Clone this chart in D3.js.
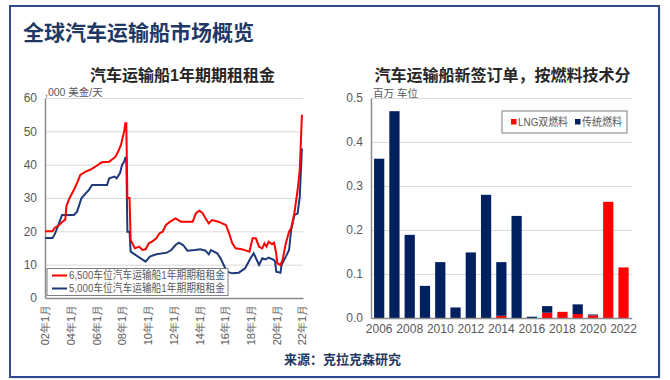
<!DOCTYPE html>
<html>
<head>
<meta charset="utf-8">
<script src="https://cdn.jsdelivr.net/npm/d3@7"></script>
<style>
  body { margin: 0; background: #fff; }
  svg { font-family: "Liberation Sans", Arial, "Noto Sans CJK SC", sans-serif; }
  .grid line { stroke: #d9d9d9; }
  .tick text { fill: #595959; }
</style>
</head>
<body>
<svg width="670" height="380"></svg>
<script>
// 6,500 / 5,000 车位 1年期期租租金 (,000 美金/天)
var rent6500 = [
  ["2002-01",20],["2002-08",20],["2002-10",21],["2003-02",21.8],["2003-05",22.8],["2003-08",23.5],
  ["2003-09",27.5],["2003-12",30],["2004-04",32.4],["2004-07",34.5],["2004-10",36.9],["2005-03",37.9],
  ["2005-08",38.6],["2006-01",39.6],["2006-06",40.7],["2007-01",40.9],["2007-04",41.6],["2007-07",42.4],
  ["2007-10",44.4],["2007-12",45.9],["2008-01",47.4],["2008-03",49.9],["2008-04",52.4],["2008-05",52.4],
  ["2008-06",30],["2008-08",30],["2008-09",17.4],["2009-01",14.9],["2009-05",15.4],["2009-08",14.4],
  ["2009-11",14.6],["2010-02",16.4],["2010-05",16.9],["2010-09",17.9],["2010-12",19.4],["2011-03",19.9],
  ["2011-06",21.9],["2011-10",22.9],["2012-03",23.9],["2012-08",22.9],["2013-07",22.9],["2013-10",25.4],
  ["2014-01",26.2],["2014-04",25.6],["2014-07",23.9],["2014-10",22.4],["2015-01",23.4],["2015-07",22.9],
  ["2016-02",21.9],["2016-05",19.4],["2016-08",16.4],["2016-11",14.9],["2017-05",14.6],["2017-09",14.2],
  ["2017-12",13.9],["2018-03",17.9],["2018-06",17.9],["2018-09",15.4],["2018-12",14.9],["2019-02",16.4],
  ["2019-04",15.4],["2019-06",16.9],["2019-09",16.2],["2019-11",16.6],["2020-01",13.4],["2020-02",10.4],
  ["2020-05",9.9],["2020-07",11.4],["2020-10",16.4],["2021-01",19.9],["2021-03",20.9],["2021-06",25.5],
  ["2021-09",32.4],["2021-11",38.4],["2021-12",46.4],["2022-01",55]
];
var rent5000 = [
  ["2002-01",18],["2002-08",18],["2002-10",19],["2003-01",21.5],["2003-05",24.9],["2004-04",24.9],
  ["2004-07",25.9],["2004-11",29.9],["2005-03",31.4],["2005-06",32.4],["2005-09",33.9],["2006-11",33.9],
  ["2007-01",35.9],["2007-06",36.4],["2007-08",35.9],["2007-11",37.4],["2008-01",39.9],["2008-03",40.9],
  ["2008-04",42.1],["2008-05",42.1],["2008-06",19.9],["2008-08",19.9],["2008-09",13.9],["2009-11",10.9],
  ["2010-03",12.4],["2010-09",13.1],["2011-07",13.6],["2011-11",14.4],["2012-03",15.9],["2012-06",16.6],
  ["2012-10",15.9],["2013-02",14.2],["2013-09",14.4],["2014-02",14.6],["2014-07",14.2],["2014-10",13.1],
  ["2014-12",14.4],["2015-06",13.4],["2015-09",11.9],["2015-12",9.9],["2016-03",7.9],["2016-08",7.4],
  ["2017-02",7.6],["2017-08",8.9],["2018-01",11.9],["2018-04",13.4],["2018-09",9.9],["2018-12",11.9],
  ["2019-03",11.6],["2019-06",12.1],["2019-11",11.4],["2019-12",10.9],["2020-01",7.9],["2020-05",7.6],
  ["2020-06",9.9],["2020-10",12.4],["2021-01",14.4],["2021-03",20.4],["2021-06",24.9],["2021-09",25.4],
  ["2021-11",30.4],["2022-01",44.9]
];
var rentTicks = ["2002-01","2004-01","2006-01","2008-01","2010-01","2012-01","2014-01","2016-01","2018-01","2020-01","2022-01"];
var rentYTicks = [0, 10, 20, 30, 40, 50, 60];

// 新签订单 (百万 车位)
var orderYears = [2006,2007,2008,2009,2010,2011,2012,2013,2014,2015,2016,2017,2018,2019,2020,2021,2022];
var orderLng   = [0,0,0,0,0,0,0,0,0.005,0,0,0.012,0.014,0.009,0.006,0.264,0.115];
var orderConv  = [0.362,0.47,0.189,0.073,0.127,0.024,0.149,0.28,0.122,0.232,0.003,0.015,0,0.022,0.002,0,0];
var orderXTicks = [2006,2008,2010,2012,2014,2016,2018,2020,2022];
var orderYTicks = [0, 0.1, 0.2, 0.3, 0.4, 0.5];

var RED = "#ff0000", NAVY = "#002060", LINEBLUE = "#1f3a7a", DARK = "#1f3864";

var svg = d3.select("svg");
var parse = d3.timeParse("%Y-%m");

// frame
svg.append("rect").attr("x", 12).attr("y", 8).attr("width", 649).attr("height", 371).attr("fill", "#e8e8ee");
svg.append("rect").attr("x", 10).attr("y", 6).attr("width", 649).attr("height", 371)
  .attr("fill", "#fff").attr("stroke", "#2e4a8e").attr("stroke-width", 2);

svg.append("text").attr("x", 23).attr("y", 39.5)
  .style("font-size", "21px").style("font-weight", "bold").attr("fill", DARK)
  .text("全球汽车运输船市场概览");

svg.append("text").attr("x", 342.5).attr("y", 364).attr("text-anchor", "middle")
  .style("font-size", "13px").style("font-weight", "bold").attr("fill", DARK)
  .text("来源：克拉克森研究");

// ---------- left: line chart ----------
function drawRent() {
  var x = d3.scaleTime().domain([parse("2002-01"), parse("2022-02")]).range([45, 303]);
  var y = d3.scaleLinear().domain([0, 60]).range([298, 98]);

  svg.append("text").attr("x", 182.5).attr("y", 80.5).attr("text-anchor", "middle")
    .style("font-size", "16px").style("font-weight", "bold").attr("fill", "#262626")
    .text("汽车运输船1年期期租租金");
  svg.append("text").attr("x", 45).attr("y", 96).style("font-size", "10.5px").attr("fill", "#595959")
    .text(",000 美金/天");

  svg.append("g").attr("class", "grid")
    .attr("transform", "translate(45,0)")
    .call(d3.axisLeft(y).tickValues(rentYTicks.slice(1)).tickSize(-258).tickFormat(""))
    .call(function (g) { g.select(".domain").remove(); });

  var yAxis = svg.append("g").attr("transform", "translate(45,0)")
    .call(d3.axisLeft(y).tickValues(rentYTicks).tickSize(0).tickPadding(8));
  yAxis.select(".domain").attr("stroke", "#8c8c8c").attr("stroke-width", 1.5);
  yAxis.selectAll("text").style("font-size", "12px");

  var xAxis = svg.append("g").attr("transform", "translate(0,298)")
    .call(d3.axisBottom(x).tickValues(rentTicks.map(parse)).tickSize(0)
      .tickFormat(function (d) { return d3.timeFormat("%y")(d) + "年1月"; }));
  xAxis.select(".domain").attr("stroke", "#8c8c8c").attr("stroke-width", 1.5);
  xAxis.selectAll("text")
    .style("font-size", "11px")
    .attr("text-anchor", "end")
    .attr("transform", "rotate(-90)")
    .attr("x", -7).attr("y", 0).attr("dy", "0.35em");

  var line = d3.line()
    .x(function (d) { return x(parse(d[0])); })
    .y(function (d) { return y(d[1]); });

  svg.append("path").datum(rent5000).attr("d", line)
    .attr("fill", "none").attr("stroke", LINEBLUE).attr("stroke-width", 2);
  svg.append("path").datum(rent6500).attr("d", line)
    .attr("fill", "none").attr("stroke", RED).attr("stroke-width", 2);

  // legend
  var lg = svg.append("g").attr("transform", "translate(47,268.5)");
  lg.append("rect").attr("width", 181).attr("height", 27)
    .attr("fill", "#fff").attr("stroke", "#7f7f7f").attr("stroke-width", 1);
  var items = [["6,500车位汽车运输船1年期期租租金", RED], ["5,000车位汽车运输船1年期期租租金", LINEBLUE]];
  items.forEach(function (it, i) {
    var cy = 7 + i * 13;
    lg.append("line").attr("x1", 5).attr("x2", 20).attr("y1", cy).attr("y2", cy)
      .attr("stroke", it[1]).attr("stroke-width", 2);
    lg.append("text").attr("x", 22).attr("y", cy).attr("dy", "0.35em")
      .attr("textLength", 156).attr("lengthAdjust", "spacingAndGlyphs")
      .style("font-size", "11px").attr("fill", "#595959").text(it[0]);
  });
}

// ---------- right: stacked bars ----------
function drawOrders() {
  var x = d3.scaleBand().domain(orderYears).range([371, 631.7]).paddingInner(0.33).paddingOuter(0.2);
  var y = d3.scaleLinear().domain([0, 0.5]).range([318, 98]);

  svg.append("text").attr("x", 502.5).attr("y", 80.5).attr("text-anchor", "middle")
    .style("font-size", "16px").style("font-weight", "bold").attr("fill", "#262626")
    .text("汽车运输船新签订单，按燃料技术分");
  svg.append("text").attr("x", 373).attr("y", 97).style("font-size", "10.5px").attr("fill", "#595959")
    .text("百万 车位");

  svg.append("g").attr("class", "grid")
    .attr("transform", "translate(371,0)")
    .call(d3.axisLeft(y).tickValues(orderYTicks.slice(1)).tickSize(-261).tickFormat(""))
    .call(function (g) { g.select(".domain").remove(); });

  var rows = orderYears.map(function (yr, i) {
    return { year: yr, lng: orderLng[i], conv: orderConv[i] };
  });
  var series = d3.stack().keys(["lng", "conv"])(rows);
  var colors = { lng: RED, conv: NAVY };

  svg.append("g").selectAll("g").data(series).join("g")
    .attr("fill", function (s) { return colors[s.key]; })
    .selectAll("rect").data(function (s) { return s; }).join("rect")
    .attr("x", function (d) { return x(d.data.year); })
    .attr("width", x.bandwidth())
    .attr("y", function (d) { return y(d[1]); })
    .attr("height", function (d) { return y(d[0]) - y(d[1]); });

  var yAxis = svg.append("g").attr("transform", "translate(371,0)")
    .call(d3.axisLeft(y).tickValues(orderYTicks).tickSize(0).tickPadding(8).tickFormat(d3.format(".1f")));
  yAxis.select(".domain").attr("stroke", "#8c8c8c").attr("stroke-width", 1.5);
  yAxis.selectAll("text").style("font-size", "12px");

  var xAxis = svg.append("g").attr("transform", "translate(0,318)")
    .call(d3.axisBottom(x).tickValues(orderXTicks).tickSize(0).tickPadding(6));
  xAxis.select(".domain").attr("stroke", "#8c8c8c").attr("stroke-width", 1.5);
  xAxis.selectAll("text").style("font-size", "12px");

  // legend
  var lg = svg.append("g").attr("transform", "translate(502,111)");
  lg.append("rect").attr("width", 125).attr("height", 22)
    .attr("fill", "#fff").attr("stroke", "#7f7f7f").attr("stroke-width", 1);
  var items = [["LNG双燃料", RED, 9, 50], ["传统燃料", NAVY, 73, 40]];
  items.forEach(function (it) {
    lg.append("rect").attr("x", it[2]).attr("y", 8).attr("width", 5.5).attr("height", 5.5).attr("fill", it[1]);
    lg.append("text").attr("x", it[2] + 7).attr("y", 11).attr("dy", "0.35em")
      .attr("textLength", it[3]).attr("lengthAdjust", "spacingAndGlyphs")
      .style("font-size", "11px").attr("fill", "#595959").text(it[0]);
  });
}

drawRent();
drawOrders();
</script>
</body>
</html>
